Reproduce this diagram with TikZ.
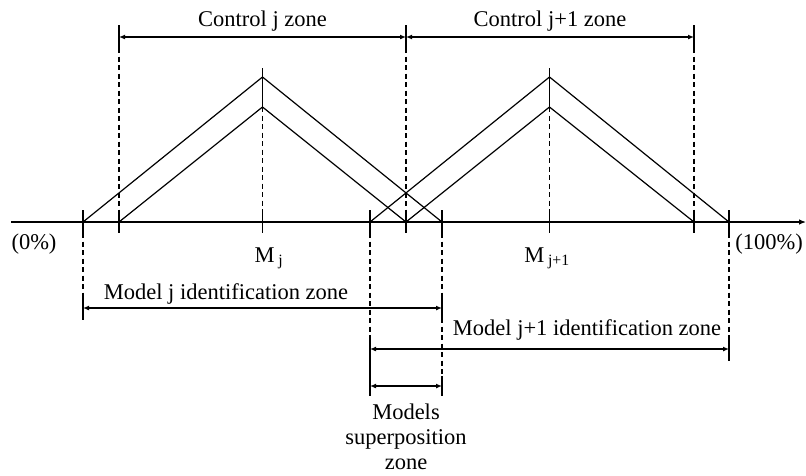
\documentclass[tikz,border=0pt]{standalone}
\usepackage{fontspec}
\setmainfont{Liberation Serif}
\usetikzlibrary{arrows.meta,positioning}

\begin{document}
\begin{tikzpicture}[
        x=1pt,y=-1pt,
        line width=1.2pt,
        lbl/.style={font=\fontsize{22.5}{25}\selectfont,inner sep=0pt,align=center},
        dimline/.style={{Latex[length=6pt,width=5pt]}-{Latex[length=6pt,width=5pt]}},
        guide/.style={dash pattern=on 5pt off 3.5pt},
        axis/.style={-{Latex[length=7pt,width=5.5pt]}}
    ]
        \useasboundingbox (0,0) rectangle (806,475);

        % axis and its points
        \coordinate (axL) at (11,222);
        \coordinate (axR) at (806,222);
        \coordinate (outjL) at (83,222);
        \coordinate (injL) at (119,222);
        \coordinate (Mj) at (262.5,222);
        \coordinate (outkL) at (370,222);
        \coordinate (mid) at (406,222);
        \coordinate (outjR) at (442,222);
        \coordinate (Mk) at (549.5,222);
        \coordinate (inkR) at (694,222);
        \coordinate (outkR) at (729,222);
        \coordinate (topj) at (262.5,77);
        \coordinate (topjin) at (262.5,107);
        \coordinate (topk) at (549.5,77);
        \coordinate (topkin) at (549.5,107);

        \draw[axis] (axL) -- (axR);
        \foreach \p in {outjL,injL,Mj,outkL,mid,outjR,Mk,inkR,outkR}
            \draw ([yshift=12pt]\p) -- ([yshift=-11pt]\p);

        % membership triangles
        \draw (outjL) -- (topj) -- (outjR);
        \draw (injL) -- (topjin) -- (mid);
        \draw (outkL) -- (topk) -- (outkR);
        \draw (mid) -- (topkin) -- (inkR);

        % guides above the axis
        \foreach \p in {injL,mid,inkR} {
            \draw ([yshift=197pt]\p) -- ([yshift=174pt]\p);
            \draw[guide] ([yshift=174pt]\p) -- ([yshift=12pt]\p);
        }
        \draw (topj) -- ++(0,-9) (topj) -- (topjin);
        \draw[guide] (topjin) -- ([yshift=12pt]Mj);
        \draw (topk) -- ++(0,-9) (topk) -- (topkin);
        \draw[guide] (topkin) -- ([yshift=12pt]Mk);

        % guides below the axis
        \draw[guide] ([yshift=-11pt]outjL) -- ([yshift=-76pt]outjL);
        \draw ([yshift=-76pt]outjL) -- ([yshift=-98pt]outjL);
        \draw[guide] ([yshift=-11pt]outkL) -- ([yshift=-116pt]outkL);
        \draw ([yshift=-116pt]outkL) -- ([yshift=-174pt]outkL);
        \draw[guide] ([yshift=-11pt]outjR) -- ([yshift=-154pt]outjR);
        \draw ([yshift=-76pt]outjR) -- ([yshift=-98pt]outjR);
        \draw ([yshift=-154pt]outjR) -- ([yshift=-174pt]outjR);
        \draw[guide] ([yshift=-11pt]outkR) -- ([yshift=-116pt]outkR);
        \draw ([yshift=-116pt]outkR) -- ([yshift=-139pt]outkR);

        % zones
        \coordinate (cjA) at (119,37);
        \coordinate (cjB) at (406,37);
        \coordinate (ckB) at (694,37);
        \coordinate (idjA) at (83,308);
        \coordinate (idjB) at (442,308);
        \coordinate (idkA) at (370,349);
        \coordinate (idkB) at (729,349);
        \coordinate (supA) at (370,386);
        \coordinate (supB) at (442,386);

        \draw[dimline] (cjA) -- node[lbl,above=5pt] (ctrlj) {Control j zone} (cjB);
        \draw[dimline] (cjB) -- node[lbl,above=5pt] (ctrlk) {Control j+1 zone} (ckB);
        \draw[dimline] (idjA) -- (idjB);
        \draw[dimline] (idkA) -- (idkB);
        \draw[dimline] (supA) -- (supB);

        \node[lbl] (idj) at (226,294) {Model j identification zone};
        \node[lbl] (idk) at (587,330) {Model j+1 identification zone};
        \node[lbl,below=17pt of supA -| mid] (sup) {Models\\superposition\\zone};

        % labels on the axis
        \node[lbl] (zero) at (34,244) {(0\%)};
        \node[lbl] (full) at (769,244) {(100\%)};
        \node[lbl] (labj) at (269,258) {M\,\textsubscript{j}};
        \node[lbl] (labk) at (547,258) {M\,\textsubscript{j+1}};
    \end{tikzpicture}
\end{document}
